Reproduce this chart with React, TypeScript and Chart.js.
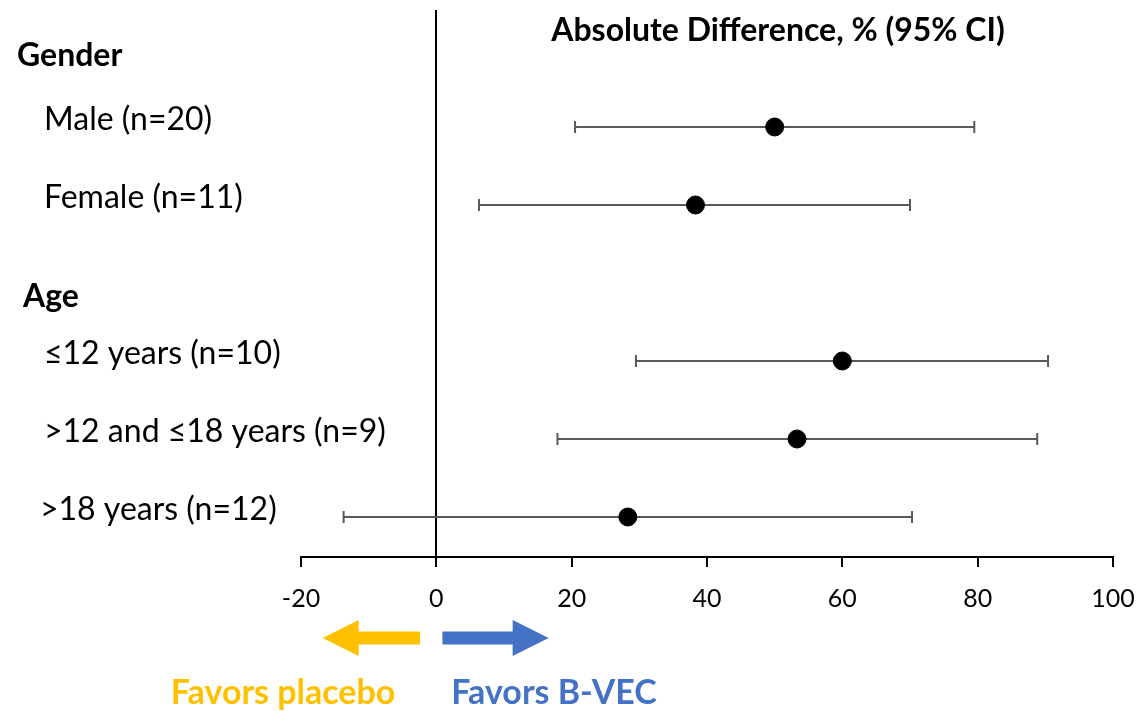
import React, { useEffect, useRef } from "react";
import { Chart, registerables } from "chart.js";

Chart.register(...registerables);

const rowLabels = [
  "Male (n=20)",
  "Female (n=11)",
  "≤12 years (n=10)",
  ">12 and ≤18 years (n=9)",
  ">18 years (n=12)",
];
const rowPos = [0, 1, 3, 4, 5];
const estimates = [50, 38.3, 60, 53.3, 28.3];
const lowerCI = [20.5, 6.3, 29.5, 17.9, -13.7];
const upperCI = [79.5, 70, 90.4, 88.8, 70.3];
const groupHeaders = ["Gender", "Age"];
const headerPos = [-0.92, 2.18];
const xMin = -20;
const xMax = 100;
const xStep = 20;
const titleText = "Absolute Difference, % (95% CI)";
const favorsLeft = "Favors placebo";
const favorsRight = "Favors B-VEC";

const FONT = "Lato, 'Open Sans', sans-serif";

const textPlugin = {
  id: "forestText",
  afterDraw(chart: any) {
    const { ctx, scales, chartArea } = chart;
    const y = scales.y;
    const x = scales.x;
    ctx.save();
    ctx.fillStyle = "#000";
    ctx.textBaseline = "middle";
    ctx.textAlign = "left";
    // headers
    ctx.font = `bold 32px ${FONT}`;
    const headerX = [17, 23];
    groupHeaders.forEach((h, i) => {
      ctx.fillText(h, headerX[i], y.getPixelForValue(headerPos[i]));
    });
    // row labels
    ctx.font = `32px ${FONT}`;
    rowLabels.forEach((l, i) => {
      const lx = i === 4 ? 40 : 44;
      ctx.fillText(l, lx, y.getPixelForValue(rowPos[i]) - 7);
    });
    // title
    ctx.font = `bold 32px ${FONT}`;
    ctx.textAlign = "center";
    ctx.fillText(titleText, 778, 31);

    // arrows
    const ay = chartArea.bottom + 81;
    const drawArrow = (from: number, to: number, color: string) => {
      const px0 = x.getPixelForValue(from);
      const px1 = x.getPixelForValue(to);
      const dir = px1 > px0 ? 1 : -1;
      const headLen = 36;
      const shaftH = 13;
      const headH = 36;
      const hb = px1 - dir * headLen;
      ctx.fillStyle = color;
      ctx.beginPath();
      ctx.moveTo(px0, ay - shaftH / 2);
      ctx.lineTo(hb, ay - shaftH / 2);
      ctx.lineTo(hb, ay - headH / 2);
      ctx.lineTo(px1, ay);
      ctx.lineTo(hb, ay + headH / 2);
      ctx.lineTo(hb, ay + shaftH / 2);
      ctx.lineTo(px0, ay + shaftH / 2);
      ctx.closePath();
      ctx.fill();
    };
    drawArrow(-2.4, -16.8, "#FFC000");
    drawArrow(0.9, 16.6, "#4472C4");

    ctx.font = `bold 34px ${FONT}`;
    ctx.textAlign = "center";
    ctx.fillStyle = "#FFC000";
    ctx.fillText(favorsLeft, 283, 693);
    ctx.fillStyle = "#4472C4";
    ctx.fillText(favorsRight, 554, 693);
    ctx.restore();
  },
};

export default function App() {
  const ref = useRef<HTMLCanvasElement | null>(null);
  useEffect(() => {
    document.body.style.margin = "0";
    const ciDatasets = rowPos.map((p, i) => ({
      type: "line" as const,
      data: [
        { x: lowerCI[i], y: p },
        { x: upperCI[i], y: p },
      ],
      borderColor: "#595959",
      borderWidth: 2,
      pointStyle: "line" as const,
      pointRotation: 90,
      pointRadius: 6,
      pointBorderColor: "#595959",
      pointBorderWidth: 2,
      pointBackgroundColor: "#595959",
      order: 1,
    }));
    const chart = new Chart(ref.current as HTMLCanvasElement, {
      type: "scatter",
      data: {
        datasets: [
          {
            type: "scatter",
            data: rowPos.map((p, i) => ({ x: estimates[i], y: p })),
            backgroundColor: "#000",
            borderColor: "#000",
            pointRadius: 9,
            order: 0,
          } as any,
          ...ciDatasets,
        ],
      },
      options: {
        animation: false,
        responsive: false,
        events: [],
        layout: { padding: { left: 301, right: 27, top: 10, bottom: 94 } },
        plugins: {
          legend: { display: false },
          title: { display: false },
          tooltip: { enabled: false },
        },
        scales: {
          x: {
            type: "linear",
            min: xMin,
            max: xMax,
            afterFit: (s: any) => {
              s.height = 60;
              s.paddingLeft = 0;
              s.paddingRight = 0;
            },
            ticks: {
              stepSize: xStep,
              color: "#000",
              font: { family: FONT, size: 25 },
              padding: 17,
            },
            grid: {
              drawOnChartArea: true,
              color: (c: any) =>
                c.tick && c.tick.value === 0 ? "#000" : "rgba(0,0,0,0)",
              tickColor: "#000",
              tickLength: 10,
              lineWidth: 2,
            },
            border: { display: true, color: "#000", width: 2 },
          },
          y: {
            type: "linear",
            reverse: true,
            min: -1.5,
            max: 5.513,
            display: false,
          },
        },
      },
      plugins: [textPlugin],
    });
    return () => chart.destroy();
  }, []);
  return (
    <div style={{ position: "absolute", left: 0, top: 0, width: 1140, height: 711 }}>
      <canvas ref={ref} width={1140} height={711} />
    </div>
  );
}
